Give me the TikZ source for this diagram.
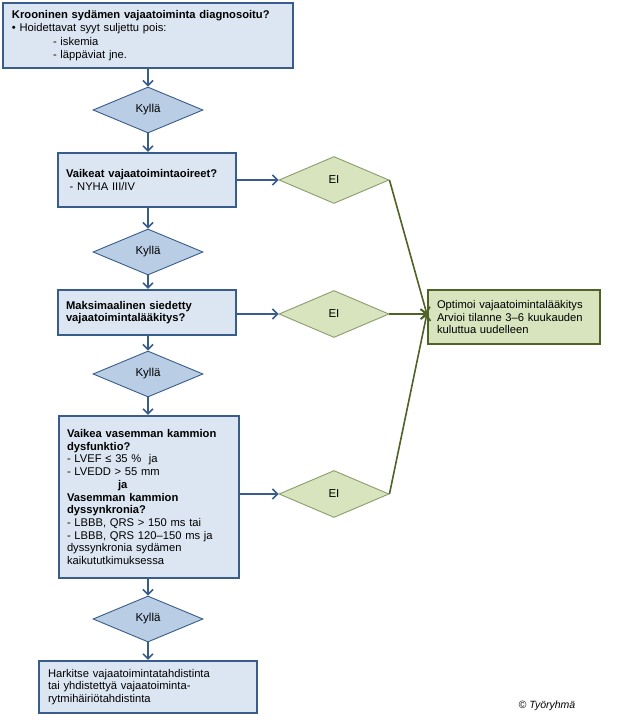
\documentclass[tikz,border=0pt]{standalone}
\usepackage{fontspec}
\setmainfont{Liberation Sans}
\usetikzlibrary{shapes.geometric,arrows.meta}
\definecolor{bluefill}{HTML}{DCE6F2}
\definecolor{blueline}{HTML}{385D8A}
\definecolor{kyllafill}{HTML}{B9CDE5}
\definecolor{greenfill}{HTML}{D7E4BD}
\definecolor{greenline}{HTML}{4F6228}
\definecolor{eiline}{HTML}{8C9C6C}
\begin{document}
\begin{tikzpicture}[x=1pt,y=-1pt,
  txt/.style={font=\fontsize{11.2}{12.7}\selectfont},
  bluebox/.style={txt, rectangle, draw=blueline, line width=2.3pt, fill=bluefill, align=left, inner ysep=0pt},
  kylla/.style={font=\fontsize{11.5}{13}\selectfont, diamond, draw=blueline, line width=0.9pt, fill=kyllafill, minimum width=110pt, minimum height=46pt, inner sep=0pt},
  eidia/.style={font=\fontsize{11.5}{13}\selectfont, diamond, draw=eiline, line width=0.9pt, fill=greenfill, minimum width=110pt, minimum height=47pt, inner sep=0pt},
  optbox/.style={txt, rectangle, draw=greenline, line width=2.3pt, fill=greenfill, align=left, inner ysep=0pt},
  barrow/.style={draw=blueline, line width=1.5pt, -{Straight Barb[length=5pt,width=10pt]}},
  garrow/.style={draw=greenline, line width=1.6pt, -{Straight Barb[length=5pt,width=10pt]}},
]
\useasboundingbox[fill=white] (0,0) rectangle (620,725);

\node[bluebox, text width=272pt, inner xsep=9pt, minimum height=65pt,
      font=\fontsize{11.2}{13.5}\selectfont] (b1) at (148,35.5)
 {\textbf{Krooninen sydämen vajaatoiminta diagnosoitu?}\\
  • Hoidettavat syyt suljettu pois:\\
  \hspace*{41pt}- iskemia\\
  \hspace*{41pt}- läppäviat jne.};

\node[kylla] (k1) at (148,110) {Kyllä};

\node[bluebox, text width=162pt, inner xsep=8pt, minimum height=54pt] (b2) at (147,180)
 {\textbf{Vaikeat vajaatoimintaoireet?}\\
  \ - NYHA III/IV};

\node[eidia] (e1) at (334,180) {EI};

\node[kylla] (k2) at (148,252) {Kyllä};

\node[bluebox, text width=162pt, inner xsep=8pt, minimum height=45pt] (b3) at (147,312.5)
 {\textbf{Maksimaalinen siedetty}\\
  \textbf{vajaatoimintalääkitys?}};

\node[eidia] (e2) at (334,314) {EI};

\node[optbox, text width=154pt, inner xsep=9pt, minimum height=54pt] (opt) at (514,317)
 {Optimoi vajaatoimintalääkitys\\
  Arvioi tilanne 3–6 kuukauden\\
  kuluttua uudelleen};

\node[kylla] (k3) at (148,374) {Kyllä};

\node[bluebox, text width=164pt, inner xsep=8pt, minimum height=162pt] (b4) at (149,497)
 {\textbf{Vaikea vasemman kammion}\\
  \textbf{dysfunktio?}\\
  - LVEF ≤ 35 \%\ \ ja\\
  - LVEDD > 55 mm\\
  \hspace*{51pt}\textbf{ja}\\
  \textbf{Vasemman kammion}\\
  \textbf{dyssynkronia?}\\
  - LBBB, QRS > 150 ms tai\\
  - LBBB, QRS 120–150 ms ja\\
  dyssynkronia sydämen\\
  kaikututkimuksessa};

\node[eidia] (e3) at (334,494) {EI};

\node[kylla] (k4) at (148,619) {Kyllä};

\node[bluebox, text width=200pt, inner xsep=9pt, minimum height=52pt] (b5) at (148,687)
 {Harkitse vajaatoimintatahdistinta\\
  tai yhdistettyä vajaatoiminta-\\
  rytmihäiriötahdistinta};

\node[font=\fontsize{10.5}{12}\selectfont\itshape] (copy) at (547,706) {© Työryhmä};

% vertical flow
\draw[barrow] (b1.south -| k1.north) -- (k1.north);
\draw[barrow] (k1.south) -- (k1.south |- b2.north);
\draw[barrow] (b2.south -| k2.north) -- (k2.north);
\draw[barrow] (k2.south) -- (k2.south |- b3.north);
\draw[barrow] (b3.south -| k3.north) -- (k3.north);
\draw[barrow] (k3.south) -- (k3.south |- b4.north);
\draw[barrow] (b4.south -| k4.north) -- (k4.north);
\draw[barrow] (k4.south) -- (k4.south |- b5.north);

% to EI
\draw[barrow] (b2.east |- e1.west) -- (e1.west);
\draw[barrow] (b3.east |- e2.west) -- (e2.west);
\draw[barrow] (b4.east |- e3.west) -- (e3.west);

% to optimoi
\coordinate (conv) at (opt.west |- e2.east);
\draw[garrow] (e1.east) -- (conv);
\draw[garrow] (e2.east) -- (conv);
\draw[garrow] (e3.east) -- (conv);
\end{tikzpicture}
\end{document}
